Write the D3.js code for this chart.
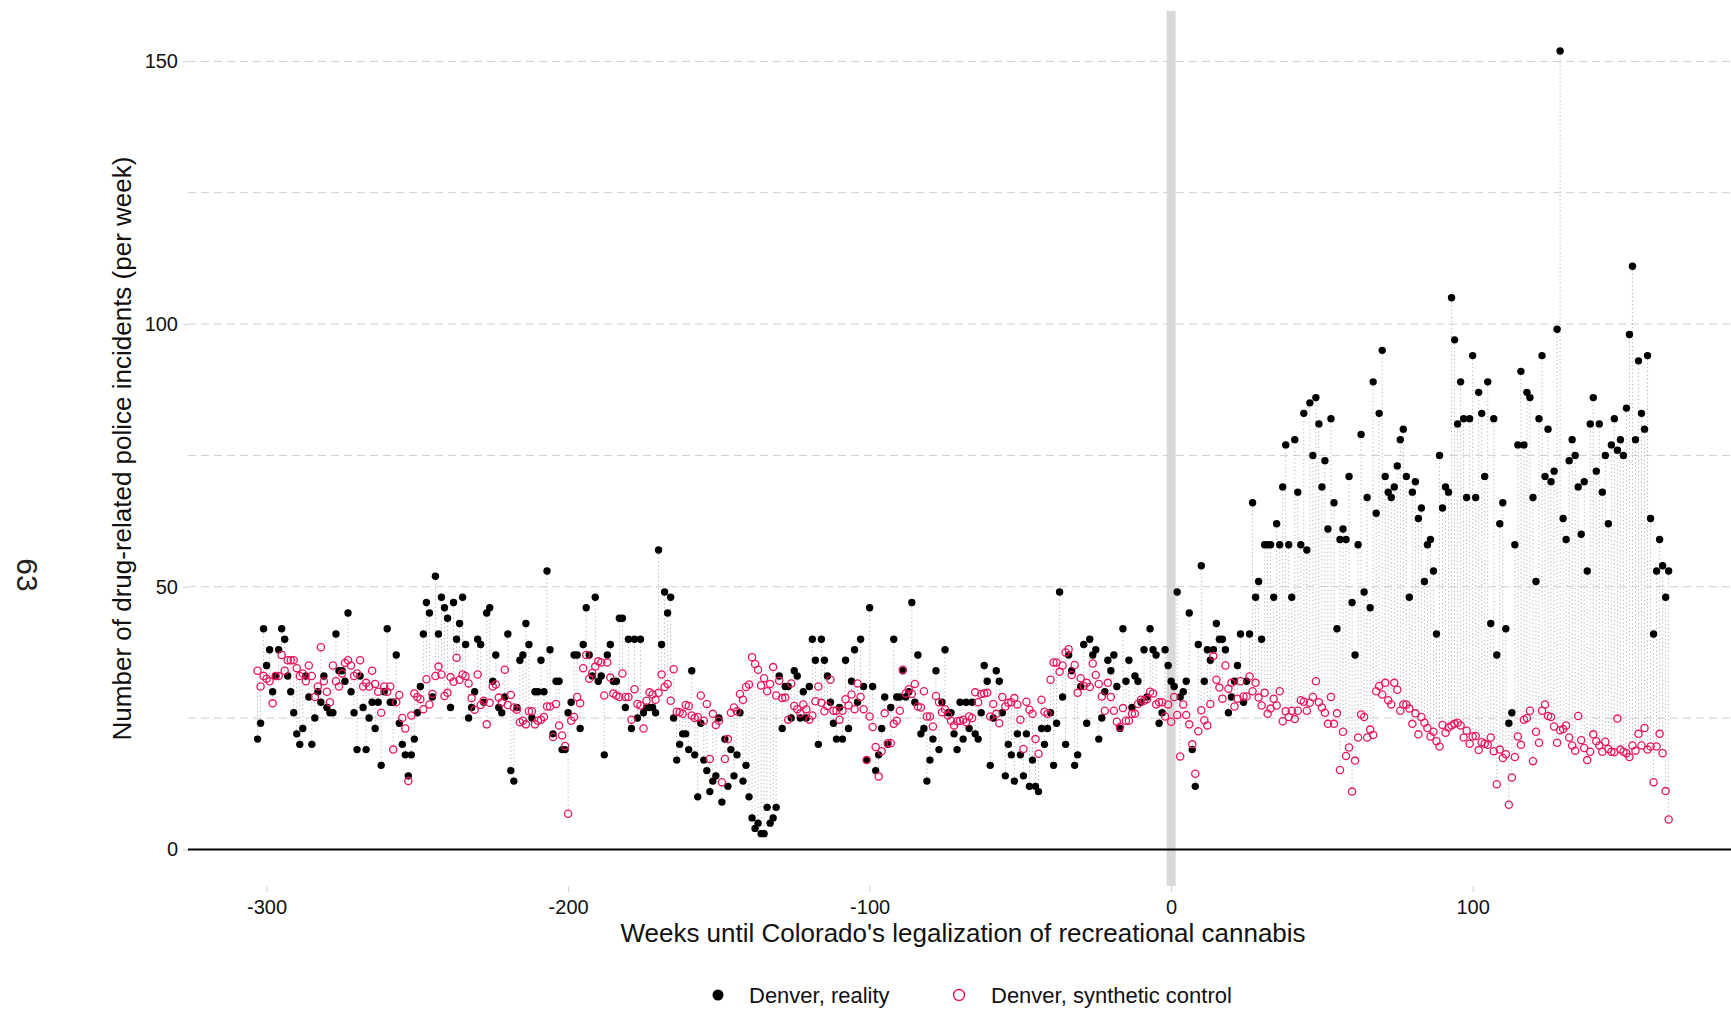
<!DOCTYPE html>
<html>
<head>
<meta charset="utf-8">
<script src="https://cdn.jsdelivr.net/npm/d3@7"></script>
<style>
  html, body { margin: 0; padding: 0; background: #fff; }
  svg { display: block; font-family: "Liberation Sans", Arial, Helvetica, sans-serif; }
</style>
</head>
<body>
<svg id="chart" width="1731" height="1010"></svg>
<script>
// ---------------- DATA ----------------
const firstWeek = -303;
const lastWeek = 165;
const weeks = d3.range(firstWeek, lastWeek + 1);

// Denver, reality (weekly counts, weeks -303 .. 165)
const reality = [
  21,24,42,35,38,30,33,38,42,40,33,30,26,22,20,23,33,29,20,25,30,28,33,27,26,26,41,34,34,32,45,30,26,19,33,27,19,25,28,23,28,16,30,42,28,28,37,24,20,18,14,
  18,21,26,31,41,47,45,29,52,41,48,46,44,27,47,40,43,48,39,25,27,30,40,39,28,45,46,32,37,27,26,29,41,15,13,27,36,37,43,39,25,30,30,36,30,53,38,22,32,32,
  19,19,26,28,37,37,23,39,46,37,33,48,32,33,18,37,39,32,32,44,44,27,40,23,40,25,40,26,27,27,27,26,57,39,49,45,48,25,17,20,22,22,19,34,18,10,24,17,15,11,
  13,14,25,9,21,12,19,14,18,26,13,16,10,6,4,5,3,3,8,5,6,8,33,23,31,31,25,34,33,25,30,25,31,40,36,20,40,36,33,28,24,21,27,21,36,23,32,38,28,40,
  31,17,46,31,15,18,23,29,20,27,40,29,29,34,29,30,47,28,37,22,23,13,17,21,34,19,28,38,26,26,22,19,28,21,28,23,28,22,21,26,35,32,16,25,34,32,26,14,20,
  18,13,22,18,14,22,12,17,12,11,23,20,23,26,16,24,49,29,20,37,34,16,18,31,39,24,40,37,38,21,25,30,36,34,37,31,23,42,32,36,27,33,32,28,38,29,42,38,37,24,26,38,35,32,31,49,
  29,30,32,45,19,12,39,54,32,38,36,38,43,40,40,38,26,29,32,35,41,28,32,41,66,48,51,40,58,58,58,48,62,58,69,77,58,
  48,78,68,58,83,57,85,75,86,81,69,74,61,82,66,42,59,61,59,71,47,37,58,79,49,67,46,89,64,83,95,71,68,67,69,73,78,80,71,
  48,68,70,63,65,51,58,59,53,41,75,65,69,68,105,97,81,89,82,67,82,94,67,87,83,71,89,43,82,37,62,66,42,24,26,58,77,91,77,87,
  86,67,51,82,94,71,80,70,72,99,152,63,59,74,78,75,69,60,70,53,81,86,72,81,68,75,62,77,82,76,78,75,84,98,111,78,93,83,80,94,63,41,53,59,54,48,53
];

// Denver, synthetic control (weeks -303 .. 165)
const synthetic = [
  34,31,33,32.5,32,27.8,33,33,37,34,36,36,36,34.5,33,33.5,32,35,33,29,31,38.5,32,30,28,35,32,31,33.5,35.5,36,35,33,33.5,36,31,31.7,31,34,31.5,30,26,31,30,31,19,28,29.4,25,23,13,
  25.5,29.7,29,28.6,26.7,32.4,27.6,29.6,33,34.8,33.3,29.2,29.8,32.8,31.9,36.5,32.3,33.3,33,31.6,28.8,26.6,33.3,27.5,28.3,23.8,27.9,31,31.4,28.9,28,34.2,27.5,29.4,27,26.6,24.2,24.5,23.8,26.3,26.3,23.8,24.5,24.7,25.2,27.2,27.2,21.4,27.7,23.6,
  21.7,19.7,6.8,24.5,25.2,29,27.8,34.5,37,32.5,33.6,34.8,35.8,35.6,29.3,35.6,32.7,29.7,29.3,29,33.5,29,29,24.7,30.5,27.7,27.4,23,28.3,29.9,29.5,28.5,29.8,33.3,30.9,31.5,28.3,34.3,26.2,26.1,25.8,27.5,27.3,25.5,25,25.2,29.3,24.5,27.7,17.2,
  25.8,23.7,24.5,12.8,17.2,21,26,27,26.3,29.6,28.5,30.9,31.4,36.6,35.3,34.2,31.2,32.6,30.1,31.5,34.7,29.3,32.1,28.8,28.9,24.7,31.6,27.3,26.7,25.9,27.6,26.7,24.7,25.5,28.2,31,27.9,26.3,27.3,32.3,26.4,26.4,24.7,26.4,28.6,27.4,29.5,26.7,31.6,29,
  26.7,17,25.3,23.3,19.5,13.9,18.7,25.9,20.2,20.2,23.9,24.5,26.4,34.2,29.7,30.5,29.6,31.5,27.2,27,30.1,25.3,25.3,23.4,29.2,28,26.1,26.7,25.5,24.5,23.6,24.4,24.5,24.7,24.2,25.3,25,29.9,28,29.6,29.7,29.8,25.3,27.7,25.8,24,29,27.2,27.9,
  28,28.8,27.6,24.7,19.1,28.1,26.6,25.8,21,18.2,28.5,26.2,25.8,32.3,35.6,35.6,33.8,35,37.5,38.1,33.2,35.1,29.8,32.6,31.1,31.7,30.9,35.4,33.2,31.5,29.1,26.4,31.7,29,26.4,24.3,23.3,26.9,24.5,24.5,25.8,25.8,27.7,28.5,28.3,28.6,30,29.7,27.6,28,28,25.3,27.6,24.3,29,25.6,
  17.7,27.6,25.6,23.8,20,14.4,22.5,26.5,24.6,23.6,27.7,36.8,32.3,30.8,28.7,35,30.6,31.7,27.2,28.7,32,29.1,29.1,32.9,30.1,31.7,28.9,27.4,29.8,25.8,26.8,28.7,27.4,30.1,24.4,26.3,25.2,
  26.4,24.8,26.4,28.4,28.1,26.4,27.9,29,32,28,27,26,23.9,29,23.9,25.9,15.1,22.4,17.8,19.4,11,16.9,21.3,25.7,25.2,21.3,22.8,21.8,30.1,31.1,29.5,31.7,28.4,27.6,31.7,30.4,26.4,27.6,27.6,
  26.8,23.9,25.9,21.9,25.2,24.1,23.1,21.5,22.4,20.6,19.6,23.7,22.2,23.2,23.6,23.9,24.1,23.6,21.3,22.6,20.1,21.5,21.6,18.9,20.4,20.1,19.9,21.3,18.7,12.4,19,17.4,18.1,8.5,13.7,17.6,21.5,19.9,24.7,25,
  26.4,16.8,22.4,20.3,26.4,27.6,25.4,25.2,23.4,20.3,22.7,22.9,23.6,21.3,19.8,18.8,25.4,20.8,19.3,17,18.6,21.9,20.6,19.8,18.6,20.5,19.1,18.6,18.5,24.9,19,18.6,18.3,17.6,19.8,18.8,22,19.8,23.1,19,19.6,12.8,19.6,22,18.3,11.1,5.7
];

const xTicks = [-300, -200, -100, 0, 100];
const yTicks = [0, 50, 100, 150];
const yMinorGrid = [25, 75, 125];
const seriesNames = ["Denver, reality", "Denver, synthetic control"];
const xTitle = "Weeks until Colorado's legalization of recreational cannabis";
const yTitle = "Number of drug-related police incidents (per week)";
const pageNumber = "63";
const treatmentWeek = 0;

// ---------------- LAYOUT ----------------
const svg = d3.select("#chart");
const W = 1731, H = 1010;
const panelLeft = 188, panelTop = 11, panelBottom = 886;
const pink = "#e8175d";

const x = d3.scaleLinear().domain([-326.4, 188.4]).range([187, 1739.2]);
const y = d3.scaleLinear().domain([0, 150]).range([849.4, 61.4]);

const data = weeks.map((w, i) => ({ w, r: reality[i], s: synthetic[i] }));

// treatment band
svg.append("line")
  .attr("x1", x(treatmentWeek)).attr("x2", x(treatmentWeek))
  .attr("y1", panelTop).attr("y2", panelBottom)
  .attr("stroke", "#d9d9d9").attr("stroke-width", 9);

// grid lines (dashed)
const gridVals = yTicks.filter(v => v !== 0).concat(yMinorGrid);
svg.append("g").selectAll("line").data(gridVals).join("line")
  .attr("x1", panelLeft).attr("x2", W)
  .attr("y1", d => y(d)).attr("y2", d => y(d))
  .attr("stroke", "#cfcfcf").attr("stroke-width", 1)
  .attr("stroke-dasharray", "8,5");

// y axis (labels + small ticks)
const yAxis = svg.append("g")
  .attr("transform", `translate(${panelLeft},0)`)
  .call(d3.axisLeft(y).tickValues(yTicks).tickSize(5).tickPadding(5).tickFormat(d3.format("d")));
yAxis.select(".domain").remove();
yAxis.selectAll(".tick line").attr("stroke", "#cfcfcf");
yAxis.selectAll(".tick text")
  .attr("fill", "#111").style("font-size", "20px")
  .style("font-family", "'Liberation Sans', Arial, sans-serif");

// x axis
const xAxis = svg.append("g")
  .attr("transform", `translate(0,${panelBottom})`)
  .call(d3.axisBottom(x).tickValues(xTicks).tickSize(6).tickPadding(8).tickFormat(d => String(d)));
xAxis.select(".domain").remove();
xAxis.selectAll(".tick line").attr("stroke", "#cfcfcf");
xAxis.selectAll(".tick text")
  .attr("fill", "#111").style("font-size", "20px")
  .style("font-family", "'Liberation Sans', Arial, sans-serif");

// zero line
svg.append("line")
  .attr("x1", panelLeft).attr("x2", W)
  .attr("y1", y(0)).attr("y2", y(0))
  .attr("stroke", "#000").attr("stroke-width", 2);

// dotted gap segments
svg.append("g").selectAll("line").data(data).join("line")
  .attr("x1", d => x(d.w)).attr("x2", d => x(d.w))
  .attr("y1", d => y(d.r)).attr("y2", d => y(d.s))
  .attr("stroke", "#b5b5b5").attr("stroke-width", 1)
  .attr("stroke-dasharray", "1.2,2.6");

// reality points
svg.append("g").selectAll("circle").data(data).join("circle")
  .attr("cx", d => x(d.w)).attr("cy", d => y(d.r))
  .attr("r", 3.7).attr("fill", "#000");

// synthetic points
svg.append("g").selectAll("circle").data(data).join("circle")
  .attr("cx", d => x(d.w)).attr("cy", d => y(d.s))
  .attr("r", 3.6).attr("fill", "none")
  .attr("stroke", pink).attr("stroke-width", 1.3);

// axis titles
svg.append("text")
  .attr("x", 963).attr("y", 942)
  .attr("text-anchor", "middle")
  .style("font-size", "26px").attr("fill", "#111")
  .text(xTitle);

svg.append("text")
  .attr("transform", "translate(131,448.5) rotate(-90)")
  .attr("text-anchor", "middle")
  .style("font-size", "26px").attr("fill", "#111")
  .text(yTitle);

// page number
svg.append("text")
  .attr("transform", "translate(17,575) rotate(90)")
  .attr("text-anchor", "middle")
  .style("font-size", "30px").attr("fill", "#222")
  .text(pageNumber);

// legend
const leg = svg.append("g");
leg.append("circle").attr("cx", 718).attr("cy", 995).attr("r", 5.5).attr("fill", "#000");
leg.append("text").attr("x", 749).attr("y", 1003)
  .style("font-size", "22px").attr("fill", "#111").text(seriesNames[0]);
leg.append("circle").attr("cx", 959).attr("cy", 995).attr("r", 5.5)
  .attr("fill", "none").attr("stroke", pink).attr("stroke-width", 1.4);
leg.append("text").attr("x", 991).attr("y", 1003)
  .style("font-size", "22px").attr("fill", "#111").text(seriesNames[1]);

if (reality.length !== weeks.length || synthetic.length !== weeks.length) {
  console.error("length mismatch", weeks.length, reality.length, synthetic.length);
}
</script>
</body>
</html>
